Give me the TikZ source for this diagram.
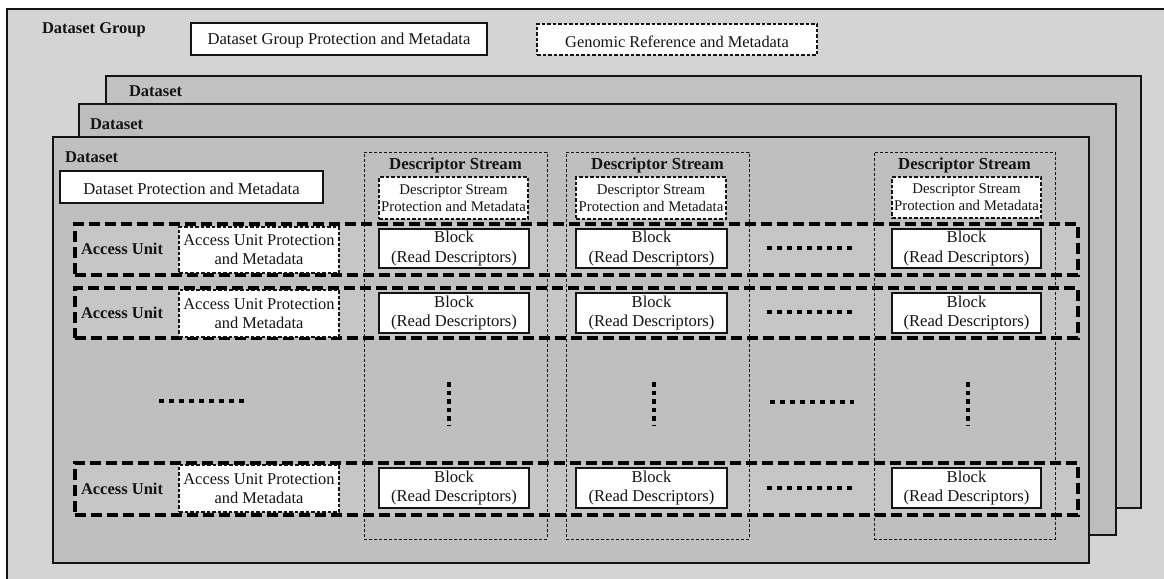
\documentclass[tikz,border=0pt]{standalone}
\usepackage{fontspec}
\setmainfont{Liberation Serif}
\definecolor{bgout}{HTML}{D4D4D4}
\definecolor{dsback}{HTML}{C2C2C2}
\definecolor{dsmid}{HTML}{BDBDBD}
\definecolor{dsfront}{HTML}{BFBFBF}
\definecolor{aufill}{HTML}{C6C6C6}
\definecolor{ink}{HTML}{141414}
% \pbox{style}{name}{x1}{y1}{x2}{y2}{text}
\newcommand\pbox[7]{%
  \node[#1, minimum width={#5-#3}, minimum height={#6-#4}, anchor=center]
    (#2) at ({(#3+#5)/2},{(#4+#6)/2}) {#7};}
\begin{document}
\begin{tikzpicture}[x=1pt,y=-1pt,
  every node/.style={inner sep=0pt, outer sep=0pt, text=ink},
  frame/.style={draw=ink, line width=1.5pt},
  lbl/.style={font=\fontsize{16.5}{20}\selectfont\bfseries, anchor=west},
  lblc/.style={font=\fontsize{16.8}{20}\selectfont\bfseries},
  lowered/.style={execute at begin node={\rule{0pt}{0.93em}}},
  solidbox/.style={draw=ink, line width=1.6pt, fill=white, align=center,
    font=\fontsize{16.6}{19.5}\selectfont, lowered},
  dashbox/.style={draw=ink, line width=1.3pt, dash pattern=on 3.5pt off 2pt,
    fill=white, align=center, font=\fontsize{16.4}{19}\selectfont, lowered},
  dsprot/.style={dashbox, font=\fontsize{14.8}{17}\selectfont},
  dscol/.style={draw=ink, line width=0.9pt, dash pattern=on 3pt off 2pt},
  aurow/.style={draw=black, line width=3.6pt, dash pattern=on 11pt off 5pt, fill=aufill},
  hdots/.style={draw=black, line width=4.5pt, dash pattern=on 5pt off 5pt},
  vdots/.style={draw=black, line width=4.5pt, dash pattern=on 4.5pt off 4pt}
]
\useasboundingbox (0,0) rectangle (1164,578);
\fill[white] (0,0) rectangle (1164,578);
\begin{scope}
  \clip (0,0) rectangle (1164,578);
  \pbox{frame, fill=bgout}{dg}{7}{9}{1200}{620}{}
\end{scope}
\node[lbl] (dglbl) at (42,30) {Dataset Group};
\pbox{solidbox}{dgprot}{191}{23}{487}{55}{Dataset Group Protection and Metadata}
\pbox{dashbox}{genref}{537}{24}{817}{55}{Genomic Reference and Metadata}

% datasets
\pbox{frame, fill=dsback}{ds3}{106}{76}{1141}{508}{}
\pbox{frame, fill=dsmid}{ds2}{79}{104}{1116}{535}{}
\pbox{frame, fill=dsfront}{ds1}{53}{137}{1089}{563}{}
\node[lbl] (ds3lbl) at (129,91) {Dataset};
\node[lbl] (ds2lbl) at (90,124) {Dataset};
\node[lbl] (ds1lbl) at (65,157) {Dataset};
\pbox{solidbox}{dsprot}{60}{171}{323}{203}{Dataset Protection and Metadata}

% access unit rows
\pbox{aurow}{au1}{75}{224}{1078}{275}{}
\pbox{aurow}{au2}{75}{288}{1078}{338}{}
\pbox{aurow}{au3}{75}{463}{1078}{515}{}

% descriptor stream columns
\pbox{dscol}{col1}{364}{152}{547}{539}{}
\pbox{dscol}{col2}{566}{152}{749}{539}{}
\pbox{dscol}{col3}{874}{152}{1055}{539}{}
\node[lblc] (col1lbl) at (455.5,165) {Descriptor Stream};
\node[lblc] (col2lbl) at (657.5,165) {Descriptor Stream};
\node[lblc] (col3lbl) at (964.5,165) {Descriptor Stream};
\pbox{dsprot}{dsp1}{379}{177}{528}{219}{Descriptor Stream\\Protection and Metadata}
\pbox{dsprot}{dsp2}{576}{177}{726}{219}{Descriptor Stream\\Protection and Metadata}
\pbox{dsprot}{dsp3}{892}{177}{1041}{218}{Descriptor Stream\\Protection and Metadata}

% row contents
\foreach \r/\ya/\yb/\pa/\pb/\ly in {1/229/268/227/273/249, 2/293/333/290/337/313, 3/468/508/465/512/489}{
  \node[lbl] (aulbl\r) at (81,\ly) {Access Unit};
  \pbox{dashbox}{aup\r}{179}{\pa}{339}{\pb}{Access Unit Protection\\and Metadata}
  \pbox{solidbox}{blk\r a}{379}{\ya}{529}{\yb}{Block\\(Read Descriptors)}
  \pbox{solidbox}{blk\r b}{576}{\ya}{727}{\yb}{Block\\(Read Descriptors)}
  \pbox{solidbox}{blk\r c}{892}{\ya}{1041}{\yb}{Block\\(Read Descriptors)}
  \coordinate (hd\r s) at (767,\ly-1);
  \coordinate (hd\r e) at (852,\ly-1);
  \draw[hdots] (hd\r s) -- (hd\r e);
}

% ellipsis between rows
\coordinate (hl1) at (159,401);
\coordinate (hl2) at (244,401);
\coordinate (hm1) at (770,402);
\coordinate (hm2) at (854,402);
\draw[hdots] (hl1) -- (hl2);
\draw[hdots] (hm1) -- (hm2);
\foreach \n/\x in {a/449, b/654, c/968}{
  \coordinate (vd\n s) at (\x,382);
  \coordinate (vd\n e) at (\x,425);
  \draw[vdots] (vd\n s) -- (vd\n e);
}
\end{tikzpicture}
\end{document}
